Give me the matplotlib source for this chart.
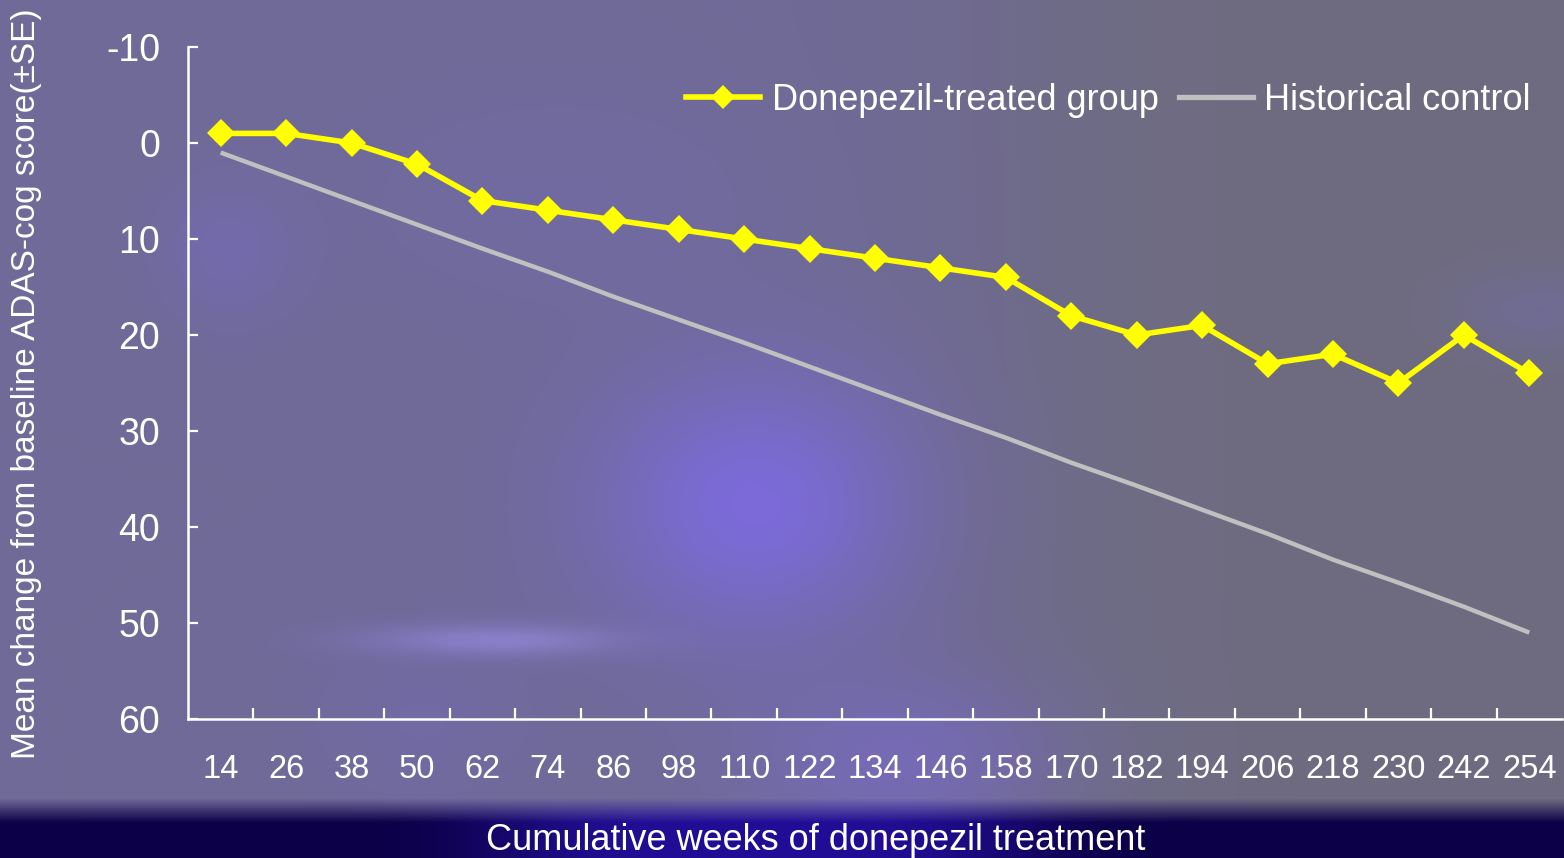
import numpy as np
import matplotlib
matplotlib.use("Agg")
import matplotlib.pyplot as plt
from matplotlib.lines import Line2D

# ---------------- data ----------------
weeks = ["14", "26", "38", "50", "62", "74", "86", "98", "110", "122", "134",
         "146", "158", "170", "182", "194", "206", "218", "230", "242", "254"]
donepezil = [-1, -1, 0, 2.2, 6, 7, 8, 9, 10, 11, 12, 13, 14, 18, 20, 19,
             23, 22, 25, 20, 24]
control = [1.0, 3.5, 6.0, 8.5, 11.0, 13.4, 16.0, 18.4, 20.8, 23.3, 25.8,
           28.3, 30.7, 33.3, 35.7, 38.2, 40.7, 43.4, 45.8, 48.3, 51.0]
y_ticks = [-10, 0, 10, 20, 30, 40, 50, 60]

W, H = 1564, 858
plt.rcParams['font.family'] = ['Liberation Sans', 'DejaVu Sans']

fig = plt.figure(figsize=(W / 100, H / 100), dpi=100)

# ---------------- background (decoration) ----------------
yy, xx = np.mgrid[0:H, 0:W].astype(float)
purple = np.array([112, 106, 152], float)
gray = np.array([110, 108, 128], float)
t = 1 / (1 + np.exp(-(xx - 1000) / 90))
bg = purple[None, None, :] * (1 - t[..., None]) + gray[None, None, :] * t[..., None]

def blob(cx, cy, sx, sy, col, amp):
    g = np.exp(-(((xx - cx) / sx) ** 2 + ((yy - cy) / sy) ** 2) / 2)[..., None] * amp
    return g, np.array(col, float)

for (cx, cy, sx, sy, col, amp) in [
        (755, 505, 110, 95, (124, 106, 220), 0.95),
        (490, 640, 85, 11, (145, 135, 215), 0.85),
        (230, 250, 50, 50, (118, 106, 185), 0.6),
        (900, 760, 110, 60, (120, 106, 195), 0.7),
        (560, 200, 150, 80, (116, 106, 170), 0.5),
        (1540, 310, 60, 30, (115, 106, 165), 0.5),
        (420, 720, 80, 60, (116, 106, 175), 0.5)]:
    g, c = blob(cx, cy, sx, sy, col, amp)
    bg = bg * (1 - g) + c[None, None, :] * g

# bottom navy band
navy = np.array([12, 0, 72], float)
navy_mid = np.array([34, 14, 150], float)
m = np.exp(-((xx - 760) / 230) ** 4 / 2)[..., None]
bandcol = navy[None, None, :] * (1 - m) + navy_mid[None, None, :] * m
s = np.clip((yy - 798) / 24, 0, 1)[..., None]
bg = bg * (1 - s) + bandcol * s

bg_ax = fig.add_axes([0, 0, 1, 1], zorder=-10)
bg_ax.imshow(np.clip(bg, 0, 255).astype(np.uint8), aspect='auto',
             extent=[0, 1, 0, 1], interpolation='bilinear')
bg_ax.axis('off')

# ---------------- chart ----------------
ax = fig.add_axes([188 / W, 1 - 719 / H, (1562 - 188) / W, (719 - 47) / H])
ax.patch.set_alpha(0)
x = np.arange(len(weeks))

ax.plot(x, control, color='#C0C0C0', lw=3.2, solid_capstyle='butt',
        label='Historical control', zorder=3)
ax.plot(x, donepezil, color='#FFFF00', lw=4.0, marker='D', ms=14.5,
        markeredgewidth=0, label='Donepezil-treated group', zorder=4)

ax.set_xlim(-0.5, len(weeks) - 0.5)
ax.set_ylim(60, -10)

for sp in ['top', 'right']:
    ax.spines[sp].set_visible(False)
for sp in ['left', 'bottom']:
    ax.spines[sp].set_color('white')
    ax.spines[sp].set_linewidth(1.8)

ax.set_yticks(y_ticks)
ax.set_yticklabels([str(v) for v in y_ticks])
ax.tick_params(axis='y', direction='in', length=7, width=1.6, colors='white',
               labelsize=27, pad=20)
ax.set_xticks(x)
ax.set_xticklabels(weeks)
ax.tick_params(axis='x', which='major', length=0, colors='white',
               labelsize=23.5, pad=25)
ax.set_xticks(np.arange(0.5, len(weeks) - 1, 1), minor=True)
ax.tick_params(axis='x', which='minor', direction='in', length=8, width=1.6,
               colors='white')

h1 = Line2D([], [], color='#FFFF00', lw=4.0, marker='D', ms=12, markeredgewidth=0)
h2 = Line2D([], [], color='#C0C0C0', lw=3.8)
leg = ax.legend([h1, h2], ['Donepezil-treated group', 'Historical control'],
                ncol=2, loc='center right',
                bbox_to_anchor=((1531 - 188) / 1374, 1 - (100 - 47) / 672),
                frameon=False, fontsize=26, labelcolor='white',
                borderpad=0, borderaxespad=0,
                handlelength=2.05, handletextpad=0.33, columnspacing=0.55)

fig.text(27 / W, 1 - 384 / H, 'Mean change from baseline ADAS-cog score(±SE)',
         rotation=90, ha='center', va='center', color='white', fontsize=24)
fig.text(816 / W, 1 - 841 / H, 'Cumulative weeks of donepezil treatment',
         ha='center', va='center', color='white', fontsize=26)

fig.savefig('out.png', dpi=100)
